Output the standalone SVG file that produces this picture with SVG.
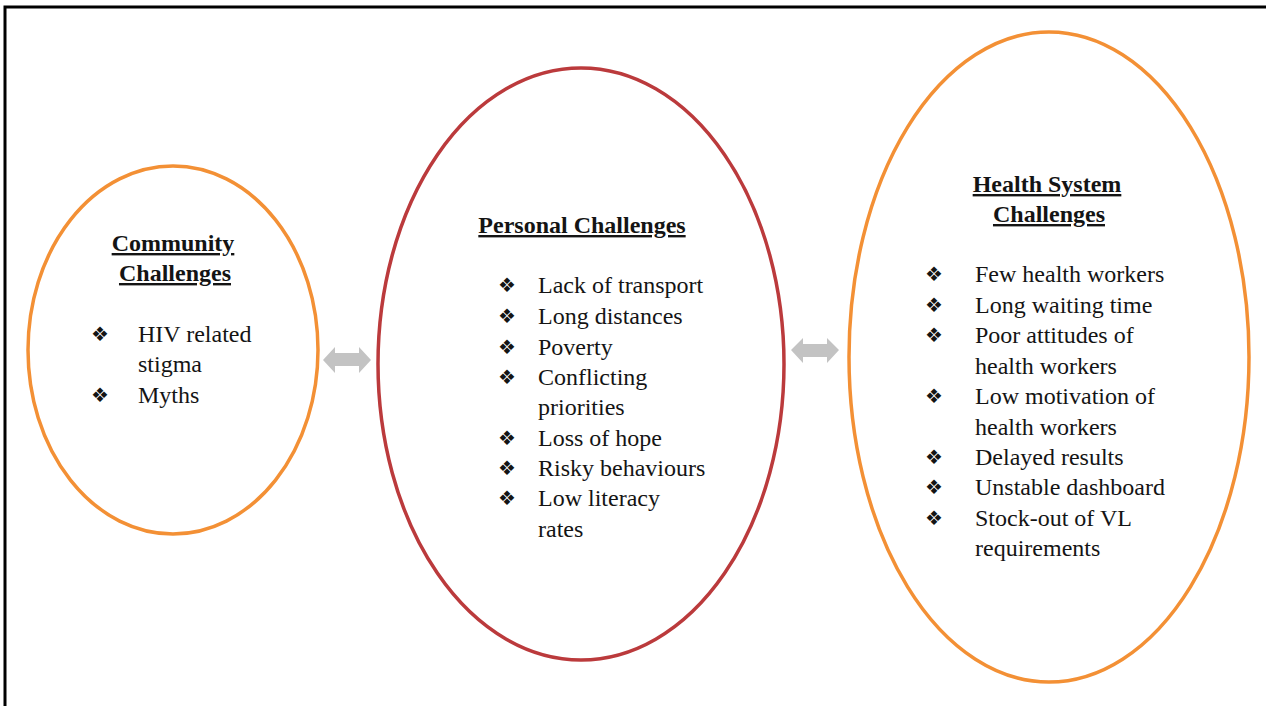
<svg xmlns="http://www.w3.org/2000/svg" width="1266" height="706" viewBox="0 0 1266 706">
<style>
.t{font-family:"Liberation Serif","Times New Roman",serif;font-size:24px;fill:#141414}
.h{font-family:"Liberation Serif","Times New Roman",serif;font-size:24px;font-weight:bold;fill:#141414;text-anchor:middle;text-decoration:underline}
.b{font-family:"DejaVu Sans",sans-serif;font-size:20px;fill:#141414}
.org{fill:none;stroke:#f39035;stroke-width:3.5}
.red{fill:none;stroke:#bb3a3c;stroke-width:3.5}
.arr{fill:#c3c3c3}
</style>
<rect x="0" y="0" width="1266" height="706" fill="#ffffff"/>
<rect x="5" y="7" width="1280" height="720" fill="none" stroke="#000" stroke-width="3"/>
<g id="connectors">
<path class="arr" d="M323,360 L335,347 L335,353 L359,353 L359,347 L371,360 L359,373 L359,366 L335,366 L335,373 Z"/>
<path class="arr" d="M791,350 L803,338 L803,344 L827,344 L827,338 L839,350 L827,363 L827,357 L803,357 L803,363 Z"/>
</g>
<g id="community">
<ellipse class="org" cx="173" cy="350" rx="145" ry="184"/>
<text class="h" x="173" y="251">Community</text>
<text class="h" x="175" y="281">Challenges</text>
<text class="b" x="91" y="341">❖</text>
<text class="t" x="138" y="342">HIV related</text>
<text class="t" x="138" y="372">stigma</text>
<text class="b" x="91" y="402">❖</text>
<text class="t" x="138" y="403">Myths</text>
</g>
<g id="personal">
<ellipse class="red" cx="581" cy="364" rx="203" ry="296"/>
<text class="h" x="582" y="233">Personal Challenges</text>
<text class="b" x="498" y="292">❖</text>
<text class="t" x="538" y="293">Lack of transport</text>
<text class="b" x="498" y="323">❖</text>
<text class="t" x="538" y="324">Long distances</text>
<text class="b" x="498" y="354">❖</text>
<text class="t" x="538" y="355">Poverty</text>
<text class="b" x="498" y="384">❖</text>
<text class="t" x="538" y="385">Conflicting</text>
<text class="t" x="538" y="415">priorities</text>
<text class="b" x="498" y="445">❖</text>
<text class="t" x="538" y="446">Loss of hope</text>
<text class="b" x="498" y="475">❖</text>
<text class="t" x="538" y="476">Risky behaviours</text>
<text class="b" x="498" y="505">❖</text>
<text class="t" x="538" y="506">Low literacy</text>
<text class="t" x="538" y="537">rates</text>
</g>
<g id="health">
<ellipse class="org" cx="1049" cy="357" rx="200" ry="325"/>
<text class="h" x="1047" y="192">Health System</text>
<text class="h" x="1049" y="222">Challenges</text>
<text class="b" x="925" y="281">❖</text>
<text class="t" x="975" y="282">Few health workers</text>
<text class="b" x="925" y="312">❖</text>
<text class="t" x="975" y="313">Long waiting time</text>
<text class="b" x="925" y="342">❖</text>
<text class="t" x="975" y="343">Poor attitudes of</text>
<text class="t" x="975" y="374">health workers</text>
<text class="b" x="925" y="403">❖</text>
<text class="t" x="975" y="404">Low motivation of</text>
<text class="t" x="975" y="435">health workers</text>
<text class="b" x="925" y="464">❖</text>
<text class="t" x="975" y="465">Delayed results</text>
<text class="b" x="925" y="494">❖</text>
<text class="t" x="975" y="495">Unstable dashboard</text>
<text class="b" x="925" y="525">❖</text>
<text class="t" x="975" y="526">Stock-out of VL</text>
<text class="t" x="975" y="556">requirements</text>
</g>
</svg>
